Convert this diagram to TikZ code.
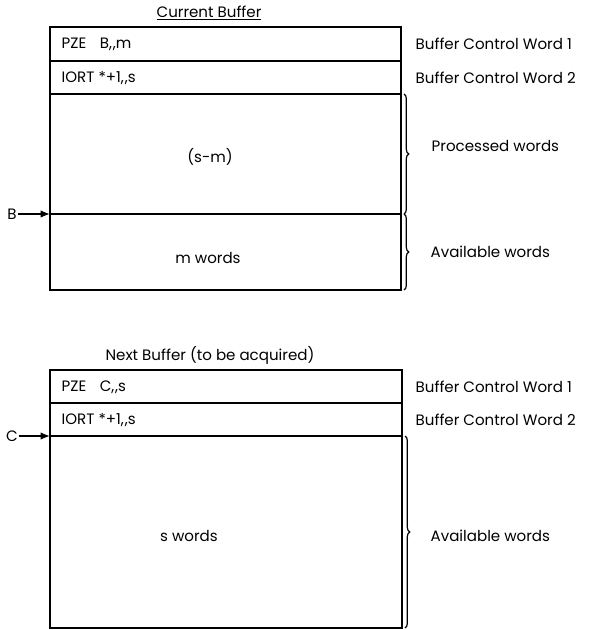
\documentclass[tikz,border=0pt]{standalone}
\usepackage{fontspec}
\setmainfont{Poppins}
\usetikzlibrary{arrows.meta,decorations.pathreplacing}

\tikzset{every picture/.style={line width=1pt}}
\tikzset{
  lbl/.style={inner sep=0.75pt,font=\fontsize{11.3}{13}\selectfont},
  brc/.style={decorate,decoration={brace,amplitude=3.5pt},line width=0.9pt},
  ptr/.style={-{Latex[length=7pt,width=5.5pt]}},
}
\newcommand{\cm}{,\kern0.6pt,}

\begin{document}
\begin{tikzpicture}[x=0.75pt,y=0.75pt,yscale=-1,xscale=1]
\useasboundingbox (0,0) rectangle (591,630);

%Shape: Rectangle [current buffer]
\draw (50,27) rectangle (401,290);
\draw (50,61) -- (401,61);
\draw (50,94) -- (401,94);
\coordinate (bptr) at (50,214);
\draw (bptr) -- (401,214);

%Shape: Rectangle [next buffer]
\draw (50,370) rectangle (402,628);
\draw (50,403) -- (402,403);
\coordinate (cptr) at (50,436);
\draw (cptr) -- (402,436);

%Braces
\draw [brc] (404,94) -- (404,214);
\draw [brc] (404,214) -- (404,290);
\draw [brc] (405,436) -- (405,628);

% Text Node
\node [lbl] (curtitle) at (209,13) {\underline{Current Buffer}};
% Text Node
\node [lbl,anchor=west] (pzeb) at (60,44) {PZE\hspace{0.9em}B\cm m};
% Text Node
\node [lbl,anchor=west] (iort1) at (60,78) {IORT *+1\cm s};
% Text Node
\node [lbl] (proc) at (210,157) {(s-m)};
% Text Node
\node [lbl] (mwords) at (208,258) {m words};
% Text Node
\node [lbl] (bsym) at (12,214) {B};
\draw [ptr] (bsym) -- (bptr);
% Text Node
\node [lbl,anchor=west] (bcw1a) at (414,44) {Buffer Control Word 1};
% Text Node
\node [lbl,anchor=west] (bcw2a) at (414,78) {Buffer Control Word 2};
% Text Node
\node [lbl,anchor=west] (procw) at (430,146) {Processed words};
% Text Node
\node [lbl,anchor=west] (avail1) at (429,252) {Available words};

% Text Node
\node [lbl] (nexttitle) at (210,355) {Next Buffer (to be acquired)};
% Text Node
\node [lbl,anchor=west] (pzec) at (60,387) {PZE\hspace{0.9em}C\cm s};
% Text Node
\node [lbl,anchor=west] (iort2) at (60,420) {IORT *+1\cm s};
% Text Node
\node [lbl] (swords) at (189,536) {s words};
% Text Node
\node [lbl] (csym) at (12,436) {C};
\draw [ptr] (csym) -- (cptr);
% Text Node
\node [lbl,anchor=west] (bcw1b) at (414,387) {Buffer Control Word 1};
% Text Node
\node [lbl,anchor=west] (bcw2b) at (414,420) {Buffer Control Word 2};
% Text Node
\node [lbl,anchor=west] (avail2) at (429,536) {Available words};

\end{tikzpicture}
\end{document}
